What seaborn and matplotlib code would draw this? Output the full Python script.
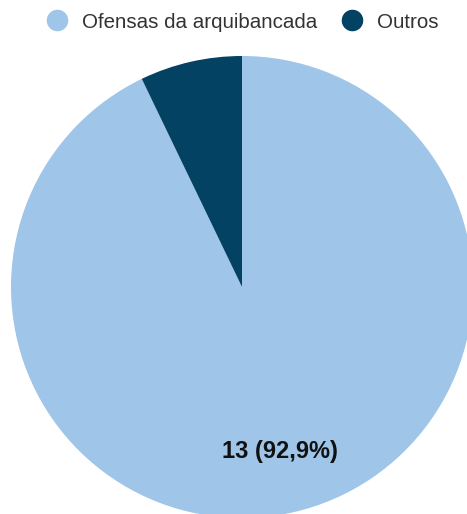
import matplotlib
matplotlib.use("Agg")
import matplotlib.pyplot as plt
from matplotlib.lines import Line2D
import seaborn as sns

categories = ["Ofensas da arquibancada", "Outros"]
counts = [13, 1]
colors = ["#9fc5e8", "#034263"]

sns.set_theme(style="white")
plt.rcParams["font.family"] = ["Liberation Sans", "DejaVu Sans"]

W, H = 467, 514
fig = plt.figure(figsize=(W / 100, H / 100), dpi=100)
ax = fig.add_axes([0, 0, 1, 1])

total = sum(counts)


def fmt(pct):
    n = round(pct * total / 100)
    if n == counts[0]:
        return f"{n} ({pct:.1f}%)".replace(".", ",")
    return ""


wedges, texts, autotexts = ax.pie(
    counts,
    colors=colors,
    startangle=90,
    counterclock=False,
    center=(242, 227),
    radius=231,
    autopct=fmt,
    pctdistance=0.73,
    frame=True,
    wedgeprops=dict(linewidth=0),
    textprops=dict(fontsize=17, fontweight="bold", color="#111111"),
)
ax.set_xlim(0, W)
ax.set_ylim(0, H)
ax.set_aspect("equal")
ax.axis("off")

handles = [
    Line2D([], [], marker="o", linestyle="", markersize=14.5,
           markerfacecolor=c, markeredgecolor=c)
    for c in colors
]
fig.legend(
    handles, categories,
    loc="center", bbox_to_anchor=(0.519, 1 - 22 / H),
    ncol=2, frameon=False, fontsize=14.8,
    handletextpad=0.7, columnspacing=1.2, handlelength=1.0,
    labelcolor="#333333",
)

fig.savefig("out.png", dpi=100)
